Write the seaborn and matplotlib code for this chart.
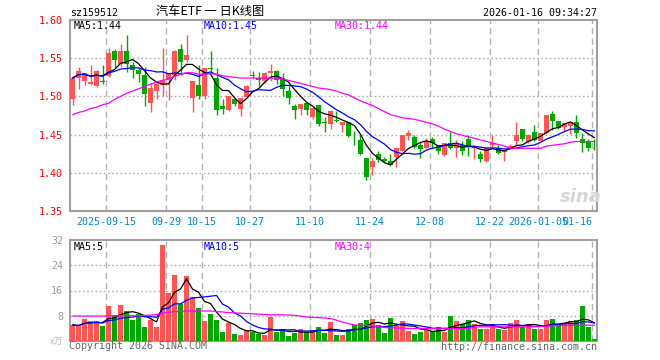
import numpy as np
import pandas as pd
import matplotlib
matplotlib.use("Agg")
import matplotlib.pyplot as plt
import seaborn as sns

sns.set_style("white")
plt.rcParams["font.family"] = ["DejaVu Sans Mono", "Noto Sans CJK SC"]

# daily candles, 2025-09-05 .. 2026-01-16 (88 trading days)
opens = [1.496, 1.524, 1.520, 1.516, 1.513, 1.520, 1.527, 1.560, 1.543, 1.559,
         1.541, 1.534, 1.528, 1.492, 1.507, 1.515, 1.521, 1.528, 1.562, 1.547,
         1.498, 1.515, 1.501, 1.537, 1.524, 1.487, 1.482, 1.496, 1.484, 1.499,
         1.528, 1.524, 1.520, 1.531, 1.533, 1.524, 1.507, 1.487, 1.483, 1.491,
         1.473, 1.489, 1.466, 1.464, 1.469, 1.463, 1.467, 1.446, 1.443, 1.419,
         1.408, 1.424, 1.418, 1.415, 1.421, 1.429, 1.448, 1.447, 1.436, 1.433,
         1.444, 1.436, 1.423, 1.439, 1.433, 1.437, 1.444, 1.432, 1.425, 1.415,
         1.436, 1.433, 1.427, 1.433, 1.442, 1.457, 1.440, 1.454, 1.442, 1.452,
         1.477, 1.468, 1.460, 1.461, 1.466, 1.444, 1.441, 1.442]
highs = [1.527, 1.539, 1.530, 1.541, 1.534, 1.541, 1.564, 1.562, 1.568, 1.581,
         1.545, 1.539, 1.539, 1.518, 1.520, 1.563, 1.531, 1.561, 1.568, 1.581,
         1.520, 1.541, 1.537, 1.560, 1.537, 1.496, 1.500, 1.496, 1.498, 1.515,
         1.533, 1.532, 1.532, 1.543, 1.535, 1.531, 1.514, 1.490, 1.490, 1.491,
         1.485, 1.489, 1.473, 1.481, 1.481, 1.467, 1.467, 1.455, 1.449, 1.419,
         1.420, 1.428, 1.421, 1.424, 1.432, 1.450, 1.456, 1.450, 1.440, 1.445,
         1.447, 1.437, 1.439, 1.453, 1.443, 1.441, 1.449, 1.434, 1.428, 1.432,
         1.450, 1.437, 1.428, 1.438, 1.467, 1.457, 1.451, 1.463, 1.452, 1.476,
         1.481, 1.468, 1.465, 1.466, 1.476, 1.452, 1.444, 1.444]
lows = [1.489, 1.510, 1.515, 1.515, 1.512, 1.516, 1.525, 1.537, 1.538, 1.532,
        1.524, 1.519, 1.487, 1.480, 1.496, 1.501, 1.495, 1.522, 1.528, 1.545,
        1.480, 1.496, 1.497, 1.532, 1.476, 1.477, 1.481, 1.487, 1.475, 1.499,
        1.524, 1.514, 1.517, 1.520, 1.516, 1.501, 1.490, 1.471, 1.476, 1.476,
        1.471, 1.461, 1.453, 1.457, 1.467, 1.454, 1.447, 1.437, 1.423, 1.390,
        1.397, 1.414, 1.414, 1.409, 1.408, 1.428, 1.443, 1.432, 1.419, 1.432,
        1.432, 1.424, 1.422, 1.431, 1.421, 1.423, 1.422, 1.418, 1.414, 1.414,
        1.434, 1.424, 1.416, 1.431, 1.436, 1.442, 1.439, 1.441, 1.441, 1.451,
        1.456, 1.457, 1.455, 1.451, 1.446, 1.427, 1.429, 1.430]
closes = [1.524, 1.533, 1.530, 1.519, 1.533, 1.519, 1.557, 1.548, 1.559, 1.543,
          1.535, 1.529, 1.503, 1.511, 1.516, 1.521, 1.531, 1.559, 1.545, 1.554,
          1.520, 1.501, 1.537, 1.536, 1.482, 1.483, 1.500, 1.490, 1.498, 1.514,
          1.527, 1.521, 1.531, 1.533, 1.522, 1.510, 1.498, 1.482, 1.490, 1.482,
          1.485, 1.464, 1.465, 1.481, 1.468, 1.467, 1.448, 1.445, 1.424, 1.395,
          1.415, 1.417, 1.415, 1.410, 1.432, 1.450, 1.452, 1.434, 1.431, 1.442,
          1.439, 1.429, 1.439, 1.432, 1.439, 1.428, 1.435, 1.434, 1.418, 1.432,
          1.439, 1.426, 1.428, 1.435, 1.450, 1.444, 1.449, 1.443, 1.452, 1.476,
          1.468, 1.458, 1.465, 1.466, 1.452, 1.439, 1.432, 1.441]
# volume, x万
volume = [5.1, 4.7, 7.0, 6.4, 6.2, 4.9, 11.0, 8.1, 11.3, 9.6,
          6.5, 8.6, 4.3, 6.5, 4.3, 30.4, 15.1, 20.9, 11.7, 20.5,
          14.0, 10.3, 6.2, 8.4, 6.8, 3.0, 5.7, 2.3, 2.0, 3.2,
          3.0, 2.1, 2.0, 7.6, 2.8, 3.3, 1.7, 2.4, 3.8, 2.8,
          3.4, 4.3, 2.4, 6.0, 1.8, 2.0, 3.9, 5.1, 5.6, 6.8,
          7.1, 5.0, 2.4, 7.4, 4.6, 6.2, 3.3, 2.1, 2.7, 3.7,
          3.2, 4.4, 2.7, 7.9, 6.2, 5.5, 6.8, 5.4, 3.9, 3.9,
          4.9, 3.9, 3.6, 5.7, 6.8, 4.3, 5.5, 3.9, 3.9, 6.5,
          7.1, 5.4, 5.4, 6.2, 6.5, 11.0, 4.3, 0.7]
# 30-day averages (need history before the window)
ma30_price = [1.476, 1.479, 1.481, 1.484, 1.486, 1.489, 1.491, 1.496, 1.500, 1.504,
              1.507, 1.510, 1.513, 1.516, 1.519, 1.521, 1.523, 1.526, 1.529, 1.531,
              1.531, 1.529, 1.529, 1.530, 1.529, 1.527, 1.526, 1.525, 1.524, 1.524,
              1.524, 1.524, 1.524, 1.524, 1.524, 1.523, 1.521, 1.519, 1.517, 1.515,
              1.513, 1.511, 1.510, 1.509, 1.507, 1.504, 1.502, 1.498, 1.494, 1.491,
              1.488, 1.484, 1.480, 1.476, 1.474, 1.472, 1.471, 1.470, 1.468, 1.466,
              1.464, 1.461, 1.457, 1.454, 1.451, 1.449, 1.447, 1.445, 1.443, 1.441,
              1.439, 1.437, 1.435, 1.432, 1.432, 1.432, 1.432, 1.432, 1.432, 1.435,
              1.436, 1.437, 1.438, 1.440, 1.441, 1.441, 1.441, 1.441]
ma30_vol = [7.9, 7.9, 7.9, 7.9, 7.9, 7.9, 7.9, 8.0, 8.0, 8.0,
            8.0, 8.0, 8.1, 8.2, 8.4, 8.8, 9.1, 9.3, 9.4, 9.5,
            9.5, 9.5, 9.5, 9.5, 9.3, 9.2, 9.0, 8.9, 8.8, 8.7,
            8.6, 8.5, 8.4, 8.3, 8.3, 8.3, 8.2, 8.1, 7.9, 7.6,
            7.5, 7.4, 7.3, 7.1, 6.6, 6.0, 5.5, 5.1, 5.0, 4.9,
            4.8, 4.5, 4.3, 4.2, 4.1, 4.1, 4.0, 4.0, 4.0, 3.9,
            3.9, 3.9, 3.9, 3.9, 3.9, 3.9, 3.9, 4.4, 4.5, 4.5,
            4.5, 4.5, 4.5, 4.5, 4.5, 4.5, 4.5, 4.5, 4.6, 4.7,
            4.8, 4.9, 4.9, 5.0, 5.0, 5.0, 5.0, 5.0]

tick_idx = [6, 16, 22, 30, 40, 50, 60, 70, 78, 87]
tick_labels = ["2025-09-15", "09-29", "10-15", "10-27", "11-10",
               "11-24", "12-08", "12-22", "2026-01-05", "01-16"]

UP, DOWN = "#ff5555", "#00a800"
df = pd.DataFrame({"o": opens, "h": highs, "l": lows, "c": closes,
                   "vol": volume, "ma30": ma30_price, "vma30": ma30_vol})
df["i"] = np.arange(len(df))
df["dir"] = np.where(df["c"] >= df["o"], "up", "down")
df["ma5"] = df["c"].rolling(5, min_periods=1).mean()
df["ma10"] = df["c"].rolling(10, min_periods=1).mean()
df["vma5"] = df["vol"].rolling(5, min_periods=1).mean()
df["vma10"] = df["vol"].rolling(10, min_periods=1).mean()
cols = df["dir"].map({"up": UP, "down": DOWN})

W, H = 660, 360
fig = plt.figure(figsize=(6.6, 3.6), dpi=100)
ax = fig.add_axes([70 / W, 1 - 211 / H, 527 / W, 191 / H])
axv = fig.add_axes([70 / W, 1 - 341 / H, 527 / W, 101 / H])

xlim = (-0.42, 87.42)
grid_x = [t - 0.42 for t in tick_idx]
border = "#a0a0a0"

# candles
ax.vlines(df["i"], df["l"], df["h"], colors=cols, lw=1, zorder=3)
body = np.maximum((df["c"] - df["o"]).abs(), 0.0012)
ax.bar(df["i"], body, bottom=np.minimum(df["o"], df["c"]), width=0.83,
       color=cols, linewidth=0, zorder=4)
sns.lineplot(x=df["i"], y=df["ma5"], color="black", lw=0.9, ax=ax, zorder=5)
sns.lineplot(x=df["i"], y=df["ma10"], color="#0000ff", lw=0.9, ax=ax, zorder=5)
sns.lineplot(x=df["i"], y=df["ma30"], color="#ff00ff", lw=0.9, ax=ax, zorder=5)

# volume
sns.barplot(data=df, x="i", y="vol", hue="dir", palette={"up": UP, "down": DOWN},
            native_scale=True, dodge=False, width=0.83, errorbar=None,
            legend=False, saturation=1, linewidth=0, ax=axv, zorder=3)
sns.lineplot(x=df["i"], y=df["vma5"], color="black", lw=0.9, ax=axv, zorder=5)
sns.lineplot(x=df["i"], y=df["vma10"], color="#0000ff", lw=0.9, ax=axv, zorder=5)
sns.lineplot(x=df["i"], y=df["vma30"], color="#ff00ff", lw=0.9, ax=axv, zorder=5)

for a, ylim, yt in [(ax, (1.35, 1.60), [1.40, 1.45, 1.50, 1.55]),
                    (axv, (0, 32), [8, 16, 24])]:
    a.set_xlim(*xlim)
    a.set_ylim(*ylim)
    a.set_xlabel("")
    a.set_ylabel("")
    for gy in yt:
        a.axhline(gy, color="#b0b0b0", lw=1, ls=(0, (1.2, 1.8)), zorder=1)
    for gx in grid_x:
        a.axvline(gx, color="#b4b4b4", lw=1, ls=(0, (4.5, 3)), zorder=1)
    for s in a.spines.values():
        s.set_color(border)
        s.set_linewidth(1.5)
    a.tick_params(length=0)

ax.set_yticks([1.35, 1.40, 1.45, 1.50, 1.55, 1.60])
ax.set_yticklabels(["%.2f" % v for v in [1.35, 1.40, 1.45, 1.50, 1.55, 1.60]],
                   color="#ff0000", fontsize=7.2)
ax.tick_params(axis="y", pad=5)
ax.set_xticks(grid_x)
ax.set_xticklabels(tick_labels, color="#0088cc", fontsize=7.2)
ax.tick_params(axis="x", pad=4)
ax.get_xticklabels()[-1].set_horizontalalignment("right")

axv.set_yticks([8, 16, 24, 32])
axv.set_yticklabels(["8", "16", "24", "32"], color="#999999", fontsize=7.2)
axv.tick_params(axis="y", pad=5)
axv.set_xticks([])


def ptext(x, y, s, **kw):
    fig.text(x / W, 1 - y / H, s, va="center", **kw)


ptext(70, 13, "sz159512", fontsize=7.2, color="black")
ptext(210, 12, "汽车ETF 一 日K线图", fontsize=8.8, color="black", ha="center",
      family=["Noto Sans CJK SC", "DejaVu Sans"])
ptext(597, 13, "2026-01-16 09:34:27", fontsize=7.2, color="black", ha="right")

ptext(74, 26, "MA5:1.44", fontsize=7.2, color="black")
ptext(204, 26, "MA10:1.45", fontsize=7.2, color="#0000ff")
ptext(335, 26, "MA30:1.44", fontsize=7.2, color="#ff00ff")
ptext(74, 247, "MA5:5", fontsize=7.2, color="black")
ptext(204, 247, "MA10:5", fontsize=7.2, color="#0000ff")
ptext(335, 247, "MA30:4", fontsize=7.2, color="#ff00ff")

ptext(63, 342, "x万", fontsize=6.5, color="#bbbbbb", ha="right",
      family=["Noto Sans CJK SC", "DejaVu Sans"])
ptext(69, 346, "Copyright 2026 SINA.COM", fontsize=7.2, color="#666666")
ptext(597, 347, "http://finance.sina.com.cn", fontsize=7.2, color="#666666", ha="right")
ptext(581, 197, "sina", fontsize=13, color="#d6d6d6", ha="center",
      fontweight="bold", fontstyle="italic", family="DejaVu Sans")

fig.savefig("out.png", dpi=100)
